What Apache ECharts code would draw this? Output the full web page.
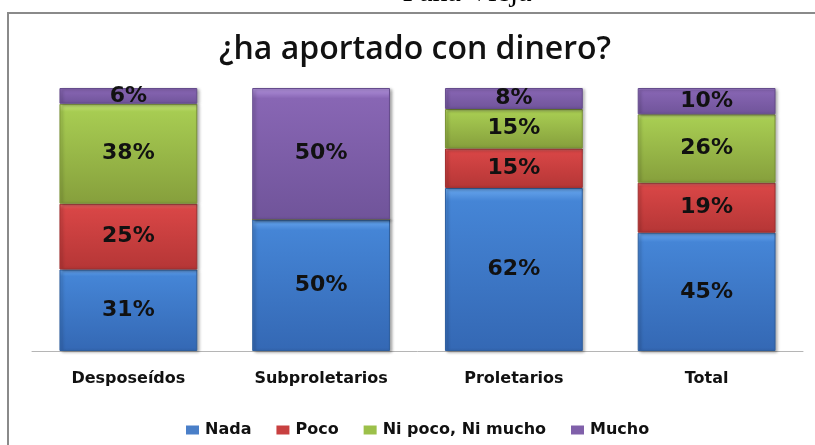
<!DOCTYPE html>
<html>
<head>
<meta charset="utf-8">
<script src="https://cdn.jsdelivr.net/npm/echarts@6/dist/echarts.min.js"></script>
<style>
  html, body { margin: 0; padding: 0; background: #fff; }
  #chart { width: 815px; height: 445px; }
</style>
</head>
<body>
<div id="chart"></div>
<script>
// datos del gráfico (porcentajes)
const categorias = ["Desposeídos", "Subproletarios", "Proletarios", "Total"];
const nada = [31, 50, 62, 45];
const poco = [25, 0, 15, 19];
const niPocoNiMucho = [38, 0, 15, 26];
const mucho = [6, 50, 8, 10];

const titulo = "¿ha aportado con dinero?";
const encabezado = "Pana Vieja";

const chart = echarts.init(document.getElementById("chart"));

// degradado vertical para imitar el biselado de Excel
function relleno(claro, medio, oscuro) {
  return new echarts.graphic.LinearGradient(0, 0, 0, 1, [
    { offset: 0, color: claro },
    { offset: 0.08, color: medio },
    { offset: 1, color: oscuro }
  ]);
}

const estilos = [
  { name: "Nada", data: nada, fill: relleno("#6aa8ef", "#4585d6", "#3468b4"), border: "#2f5f9e", legend: "#4a7fc8" },
  { name: "Poco", data: poco, fill: relleno("#f07070", "#d84646", "#b53636"), border: "#a03030", legend: "#c84040" },
  { name: "Ni poco, Ni mucho", data: niPocoNiMucho, fill: relleno("#c6e37a", "#a7cc52", "#869f3c"), border: "#7a9236", legend: "#9cc04a" },
  { name: "Mucho", data: mucho, fill: relleno("#b394de", "#8866b4", "#70549a"), border: "#654c8c", legend: "#8060aa" }
];

const option = {
  backgroundColor: "#fff",
  animation: false,
  title: {
    text: titulo,
    left: 410,
    textAlign: "center",
    top: 29,
    textStyle: {
      fontFamily: "Open Sans",
      fontWeight: 600,
      fontSize: 32,
      color: "#111"
    }
  },
  graphic: [
    {
      type: "rect",
      shape: { x: 8, y: 13, width: 820, height: 450 },
      style: { fill: "none", stroke: "#8a8a8a", lineWidth: 2 },
      silent: true
    },
    {
      type: "text",
      x: 467,
      y: 8,
      style: {
        text: encabezado,
        fontFamily: "Liberation Serif",
        fontSize: 30,
        fill: "#000",
        align: "center",
        verticalAlign: "bottom"
      },
      silent: true
    }
  ],
  legend: {
    top: 417,
    left: 181,
    icon: "rect",
    itemWidth: 13,
    itemHeight: 9,
    itemGap: 25,
    textStyle: {
      fontFamily: "DejaVu Sans",
      fontWeight: "bold",
      fontSize: 16,
      color: "#111",
      padding: [0, 0, 0, 1]
    },
    data: estilos.map(s => ({ name: s.name, itemStyle: { color: s.legend, borderWidth: 0, shadowBlur: 0, shadowOffsetX: 0, shadowOffsetY: 0 } }))
  },
  grid: {
    left: 32,
    right: 12,
    top: 88,
    bottom: 94
  },
  xAxis: {
    type: "category",
    data: categorias,
    axisLine: { lineStyle: { color: "#b5b5b5", width: 1 } },
    axisTick: { show: false },
    axisLabel: {
      margin: 20,
      fontFamily: "DejaVu Sans",
      fontWeight: "bold",
      fontSize: 16,
      color: "#111"
    }
  },
  yAxis: {
    type: "value",
    min: 0,
    max: 100,
    show: false,
    splitLine: { show: false }
  },
  series: estilos.map(s => ({
    name: s.name,
    type: "bar",
    stack: "total",
    barCategoryGap: "28.5%",
    data: s.data,
    itemStyle: {
      color: s.fill,
      borderColor: s.border,
      borderWidth: 1,
      shadowColor: "rgba(0,0,0,0.35)",
      shadowBlur: 3,
      shadowOffsetX: 2,
      shadowOffsetY: 1
    },
    label: {
      show: true,
      position: "inside",
      fontFamily: "DejaVu Sans",
      fontWeight: "bold",
      fontSize: 22,
      color: "#111",
      formatter: p => (p.value > 0 ? p.value + "%" : "")
    }
  }))
};

chart.setOption(option);
</script>
</body>
</html>
